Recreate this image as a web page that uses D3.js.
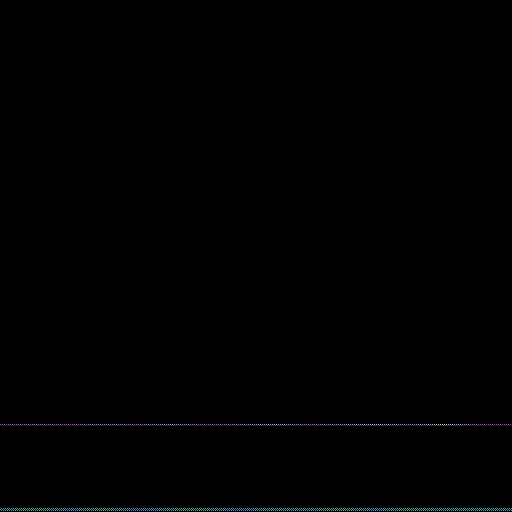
<!DOCTYPE html>
<html>
<head>
<meta charset="utf-8">
<script src="https://cdn.jsdelivr.net/npm/d3@7"></script>
<style>
  html, body { margin: 0; padding: 0; background: #000; }
  svg { display: block; }
</style>
</head>
<body>
<div id="chart"></div>
<script>
// levels read along the two visible strips, left to right
const upperLevels = [0.55, 0.7, 0.6, 0.75, 0.65, 0.8, 0.6, 0.7, 0.85, 0.65, 0.75, 0.9, 0.7, 0.95, 0.6, 0.5];
const lowerLevels = [0.55, 0.7, 0.4, 0.8, 0.3, 0.6, 0.75, 0.35, 0.65, 0.5, 0.8, 0.45, 0.7, 0.55, 0.6, 0.5];
const rowLevels = [0.006, 0.17]; // strip heights as a share of the frame

const w = 512, h = 512;

const svg = d3.select("#chart")
  .append("svg")
  .attr("width", w)
  .attr("height", h);

svg.append("rect")
  .attr("width", w)
  .attr("height", h)
  .attr("fill", "#000");

const x = d3.scaleLinear().domain([0, 1]).range([0, w]);
const y = d3.scaleLinear().domain([0, 1]).range([h, 0]);

const upperColor = d3.scaleLinear()
  .domain([0, 0.6, 1])
  .range(["#4a1a70", "#a058d0", "#f0d8ff"]);

const lowerColor = d3.scaleSequential(d3.interpolateCool);

const defs = svg.append("defs");

function gradient(id, levels, color, dim) {
  const g = defs.append("linearGradient")
    .attr("id", id)
    .attr("gradientUnits", "userSpaceOnUse")
    .attr("x1", x(0)).attr("x2", x(1))
    .attr("y1", 0).attr("y2", 0);
  g.selectAll("stop")
    .data(levels)
    .enter()
    .append("stop")
    .attr("offset", (d, i) => i / (levels.length - 1))
    .attr("stop-color", d => {
      const c = d3.color(color(d));
      return dim ? c.darker(2.5) : c;
    });
}

gradient("upper", upperLevels, upperColor, false);
gradient("upperShadow", upperLevels, upperColor, true);
gradient("lower", lowerLevels, d => d3.interpolateRgb(lowerColor(d), "#8060c0")(0.35), false);

const line = d3.line()
  .x(d => x(d[0]))
  .y(d => d[1]);

// bright dotted strip
const yUp = Math.floor(y(rowLevels[1])) + 0.5;
svg.append("path")
  .datum([[0, yUp], [1, yUp]])
  .attr("d", line)
  .attr("stroke", "url(#upper)")
  .attr("stroke-width", 1)
  .attr("stroke-dasharray", "1,1")
  .attr("fill", "none");

svg.append("path")
  .datum([[0, yUp + 1], [1, yUp + 1]])
  .attr("d", line)
  .attr("stroke", "url(#upperShadow)")
  .attr("stroke-width", 1)
  .attr("stroke-dasharray", "1,1")
  .attr("stroke-dashoffset", 1)
  .attr("fill", "none");

// noisy band along the bottom edge
const yLow = Math.floor(y(rowLevels[0]));
const bandRows = d3.range(4).map(i => yLow - 1 + i + 0.5);
svg.selectAll(".band")
  .data(bandRows)
  .enter()
  .append("path")
  .attr("class", "band")
  .attr("d", r => line([[0, r], [1, r]]))
  .attr("stroke", "url(#lower)")
  .attr("stroke-width", 1)
  .attr("stroke-dasharray", (r, i) => i === 0 ? "1,3" : "1,1")
  .attr("stroke-dashoffset", (r, i) => i % 2)
  .attr("opacity", (r, i) => i === 0 ? 0.35 : 0.9)
  .attr("fill", "none");
</script>
</body>
</html>
